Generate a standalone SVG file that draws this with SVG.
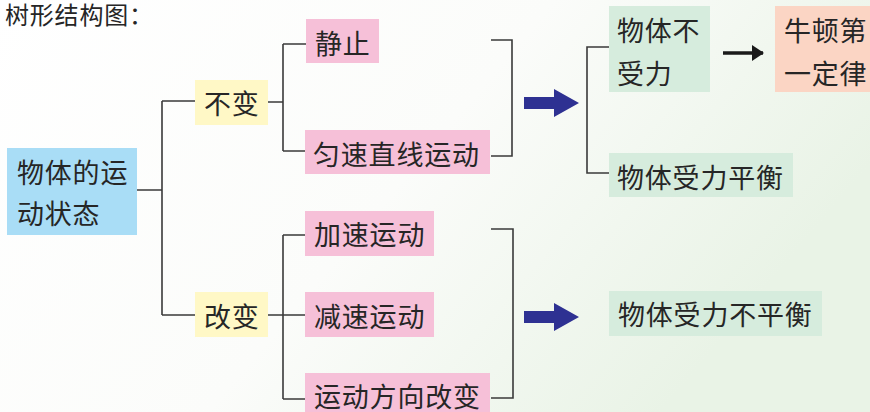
<svg xmlns="http://www.w3.org/2000/svg" width="870" height="412" viewBox="0 0 870 412">
<defs>
<linearGradient id="bg" x1="0" y1="0" x2="1" y2="0.4">
<stop offset="0" stop-color="#ffffff"/>
<stop offset="0.55" stop-color="#fbfcfa"/>
<stop offset="1" stop-color="#e9f3e6"/>
</linearGradient>
<marker id="blk" viewBox="0 0 12 16" refX="11" refY="8" markerWidth="12" markerHeight="16" markerUnits="userSpaceOnUse" orient="auto">
<path d="M0,0 L12,8 L0,16 Z" fill="#1a1a1a"/>
</marker>
</defs>
<style>
text{font-family:"Noto Sans CJK SC","Noto Sans CJK JP",sans-serif;font-size:27px;fill:#262626;dominant-baseline:central;letter-spacing:0.8px}
.ln{fill:none;stroke:#3a3a3a;stroke-width:1.6}
.big{fill:#2e3192}
.blue{fill:#a9ddf6}
.yel{fill:#fff8c6}
.pink{fill:#f6c0d8}
.grn{fill:#d6ecdd}
.pch{fill:#fbd5c4}
</style>
<rect x="0" y="0" width="870" height="412" fill="url(#bg)"/>
<text x="5" y="13" style="font-size:24px">树形结构图：</text>

<g id="connectors">
<path class="ln" d="M137,190 H162 M162,101 V315 M162,101 H195 M162,315 H195"/>
<path class="ln" d="M268,102 H283 M283,44 V151 M283,44 H306 M283,151 H305"/>
<path class="ln" d="M268,315 H283 M283,235 V399 M283,235 H305 M283,315 H305 M283,399 H305"/>
<path class="ln" d="M491,40 H512 V156 H491"/>
<path class="ln" d="M491,229 H513 V398 H491"/>
<path class="ln" d="M609,47 H587 V173 H609"/>
<path class="big" d="M524,97 H554 V89 L579,103 L554,117 V109 H524 Z"/>
<path class="big" d="M524,311 H554 V303 L579,317 L554,331 V323 H524 Z"/>
<line x1="723" y1="53" x2="763" y2="53" stroke="#1a1a1a" stroke-width="3.4" marker-end="url(#blk)"/>
</g>

<g id="root"><rect class="blue" x="7" y="148" width="130" height="87"/><text x="17" y="171">物体的运</text><text x="17" y="212">动状态</text></g>
<g id="bubian"><rect class="yel" x="195" y="80" width="73" height="45"/><text x="204" y="102">不变</text></g>
<g id="gaibian"><rect class="yel" x="195" y="292" width="73" height="45"/><text x="204" y="315">改变</text></g>
<g id="jingzhi"><rect class="pink" x="306" y="19" width="73" height="44"/><text x="315" y="42">静止</text></g>
<g id="yunsu"><rect class="pink" x="305" y="130" width="185" height="44"/><text x="313" y="153">匀速直线运动</text></g>
<g id="jiasu"><rect class="pink" x="305" y="211" width="129" height="45"/><text x="314" y="233">加速运动</text></g>
<g id="jiansu"><rect class="pink" x="305" y="292" width="129" height="45"/><text x="314" y="315">减速运动</text></g>
<g id="fangxiang"><rect class="pink" x="305" y="373" width="185" height="45"/><text x="314" y="395">运动方向改变</text></g>
<g id="bushouli"><rect class="grn" x="609" y="6" width="101" height="86"/><text x="617" y="29">物体不</text><text x="617" y="72">受力</text></g>
<g id="niudun"><rect class="pch" x="775" y="6" width="95" height="86"/><text x="784" y="29">牛顿第</text><text x="784" y="72">一定律</text></g>
<g id="pingheng"><rect class="grn" x="609" y="153" width="184" height="44"/><text x="617" y="176">物体受力平衡</text></g>
<g id="bupingheng"><rect class="grn" x="609" y="291" width="213" height="45"/><text x="618" y="313">物体受力不平衡</text></g>
</svg>
